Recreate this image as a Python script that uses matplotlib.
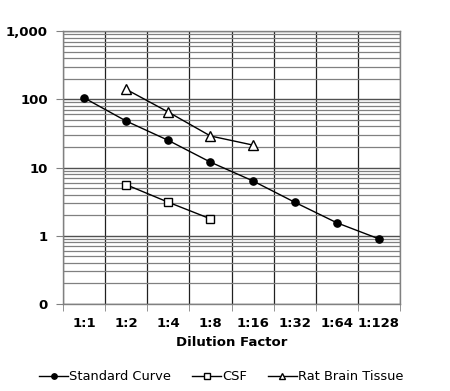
import matplotlib
matplotlib.use("Agg")
import matplotlib.pyplot as plt
import numpy as np
from matplotlib.ticker import FixedLocator, NullFormatter, LogLocator

categories = ["1:1", "1:2", "1:4", "1:8", "1:16", "1:32", "1:64", "1:128"]

standard_curve = [105, 48, 25, 12, 6.4, 3.1, 1.55, 0.9]
csf_x = ["1:2", "1:4", "1:8"]
csf = [5.6, 3.1, 1.77]
brain_x = ["1:2", "1:4", "1:8", "1:16"]
brain = [140, 65, 29, 21.4]

y_ticks = [0.1, 1, 10, 100, 1000]
y_labels = ["0", "1", "10", "100", "1,000"]

plt.rcParams["font.family"] = "DejaVu Sans"

fig = plt.figure(figsize=(4.5, 3.91), dpi=100)
ax = fig.add_axes([0.14, 0.2225, 0.749, 0.698])

pos = {c: i for i, c in enumerate(categories)}

ax.plot(range(len(categories)), standard_curve, color="black", lw=1,
        marker="o", ms=5.2, mfc="black", mec="black", label="Standard Curve", zorder=5)
ax.plot([pos[c] for c in csf_x], csf, color="black", lw=1,
        marker="s", ms=5.8, mfc="white", mec="black", mew=1, label="CSF", zorder=5)
ax.plot([pos[c] for c in brain_x], brain, color="black", lw=1,
        marker="^", ms=6.5, mfc="white", mec="black", mew=1, label="Rat Brain Tissue", zorder=5)

ax.set_yscale("log")
ax.set_ylim(0.1, 1000)
ax.set_xlim(-0.5, len(categories) - 0.5)

ax.yaxis.set_major_locator(FixedLocator(y_ticks))
ax.set_yticklabels(y_labels)
ax.yaxis.set_minor_locator(LogLocator(base=10, subs=np.arange(2, 10)))
ax.yaxis.set_minor_formatter(NullFormatter())

ax.set_xticks(range(len(categories)))
ax.set_xticklabels(categories)
ax.set_xticks(np.arange(-0.5, len(categories)), minor=True)

ax.tick_params(axis="x", which="major", length=0, pad=9, labelsize=9.5)
ax.tick_params(axis="x", which="minor", length=5, color="#808080", direction="out")
ax.tick_params(axis="y", which="major", length=5, color="#808080", direction="out", pad=6, labelsize=9.5)
ax.tick_params(axis="y", which="minor", length=0)
for lab in ax.get_xticklabels() + ax.get_yticklabels():
    lab.set_fontweight("bold")

ax.grid(True, axis="y", which="major", color="#505050", lw=1.0, zorder=0)
ax.grid(True, axis="y", which="minor", color="#808080", lw=0.9, zorder=0)
ax.grid(True, axis="x", which="minor", color="#202020", lw=0.9, zorder=0)
ax.grid(False, axis="x", which="major")
ax.set_axisbelow(True)

for sp in ax.spines.values():
    sp.set_color("#808080")
    sp.set_linewidth(1.0)

ax.set_xlabel("Dilution Factor", fontsize=9.5, fontweight="bold", labelpad=5)

ax.legend(loc="upper center", bbox_to_anchor=(0.47, -0.2), ncol=3, frameon=False,
          fontsize=9.4, handlelength=2.2, handletextpad=0.1, columnspacing=1.6,
          markerscale=0.75)

fig.savefig("out.png", dpi=100)
